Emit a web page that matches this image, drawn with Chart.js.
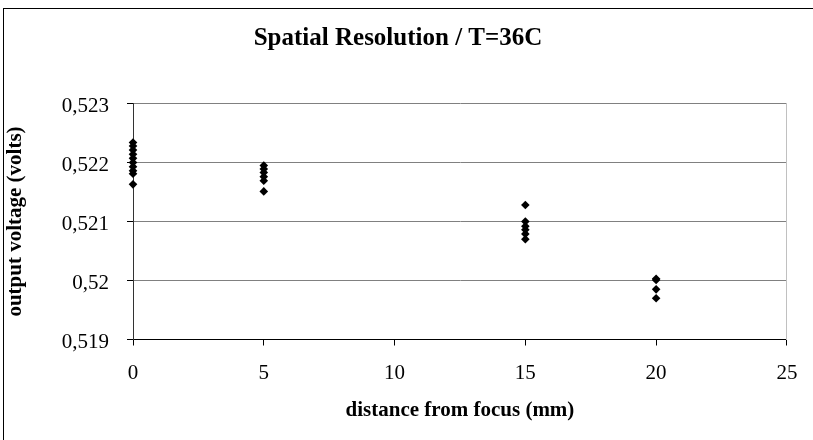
<!DOCTYPE html>
<html>
<head>
<meta charset="utf-8">
<script src="https://cdn.jsdelivr.net/npm/chart.js@4.4.0/dist/chart.umd.min.js"></script>
<style>
  html, body { margin: 0; padding: 0; background: #fff; overflow: hidden; }
  #wrap { position: relative; width: 813px; height: 440px; overflow: hidden; }
  #frame { position: absolute; left: 3px; top: 8px; width: 1000px; height: 600px; border-left: 1px solid #000; border-top: 1px solid #000; }
  #chart { position: absolute; left: 0; top: 0; }
</style>
</head>
<body>
<div id="wrap">
  <div id="frame"></div>
  <canvas id="chart" width="813" height="440"></canvas>
</div>
<script>
// distance from focus (mm) and the voltages measured at each distance
var distances = [0, 5, 15, 20];
var volts0  = [0.52234, 0.52228, 0.52221, 0.52214, 0.52207, 0.52200, 0.52193, 0.52186, 0.52181, 0.52163];
var volts5  = [0.52195, 0.52189, 0.52183, 0.52176, 0.52169, 0.52151];
var volts15 = [0.52128, 0.52100, 0.52092, 0.52086, 0.52079, 0.52070];
var volts20 = [0.52003, 0.52001, 0.51985, 0.51970];
var xTicks = [0, 5, 10, 15, 20, 25];
var yTicks = [0.519, 0.520, 0.521, 0.522, 0.523];

var groups = [volts0, volts5, volts15, volts20];
var points = [];
groups.forEach(function (vals, i) {
    vals.forEach(function (v) { points.push({ x: distances[i], y: v }); });
});

Chart.defaults.font.family = 'Liberation Serif';
Chart.defaults.color = '#000';

var ctx = document.getElementById('chart').getContext('2d');
var myChart = new Chart(ctx, {
    type: 'scatter',
    data: {
        datasets: [{
            label: 'output voltage',
            data: points,
            clip: false,
            pointStyle: 'rectRot',
            pointRadius: 4.3,
            pointHoverRadius: 4.3,
            backgroundColor: '#000',
            borderColor: '#000',
            borderWidth: 0
        }]
    },
    options: {
        responsive: false,
        animation: false,
        devicePixelRatio: 1,
        layout: { padding: { left: 5, right: 22, top: 0, bottom: 0 } },
        plugins: {
            legend: { display: false },
            tooltip: { enabled: false },
            title: {
                display: true,
                text: 'Spatial Resolution / T=36C',
                color: '#000',
                font: { size: 25, weight: 'bold', lineHeight: 1.2 },
                padding: { top: 23.5, bottom: 50 }
            }
        },
        scales: {
            x: {
                type: 'linear',
                position: 'bottom',
                min: 0,
                max: 25,
                afterBuildTicks: function (s) { s.ticks = xTicks.map(function (v) { return { value: v }; }); },
                afterFit: function (s) { s.height = 100.5; },
                grid: { drawOnChartArea: false, drawTicks: true, tickLength: 6, tickColor: '#000' },
                border: { color: '#000', width: 1 },
                ticks: { font: { size: 21 }, color: '#000', padding: 15.6, maxRotation: 0 },
                title: {
                    display: true,
                    text: 'distance from focus (mm)',
                    color: '#000',
                    font: { size: 21, weight: 'bold', lineHeight: 1.2 },
                    padding: { top: 0, bottom: 16.7 }
                }
            },
            y: {
                position: 'left',
                min: 0.519,
                max: 0.523,
                afterBuildTicks: function (s) { s.ticks = yTicks.map(function (v) { return { value: v }; }); },
                afterFit: function (s) { s.width = 128; },
                grid: { color: '#808080', lineWidth: 1, drawTicks: true, tickLength: 6, tickColor: '#000' },
                border: { color: '#333', width: 1 },
                ticks: {
                    font: { size: 21 },
                    color: '#000',
                    padding: 18,
                    labelOffset: 3,
                    callback: function (v) { return String(+v.toFixed(3)).replace('.', ','); }
                },
                title: {
                    display: true,
                    text: 'output voltage (volts)',
                    color: '#000',
                    font: { size: 21, weight: 'bold', lineHeight: 1 },
                    padding: { top: 0, bottom: 0 }
                }
            },
            y2: {
                position: 'right',
                min: 0.519,
                max: 0.523,
                afterFit: function (s) { s.width = 0; },
                grid: { drawOnChartArea: false, drawTicks: false },
                border: { color: '#c0c0c0', width: 1 },
                ticks: { display: false }
            }
        }
    }
});
</script>
</body>
</html>
